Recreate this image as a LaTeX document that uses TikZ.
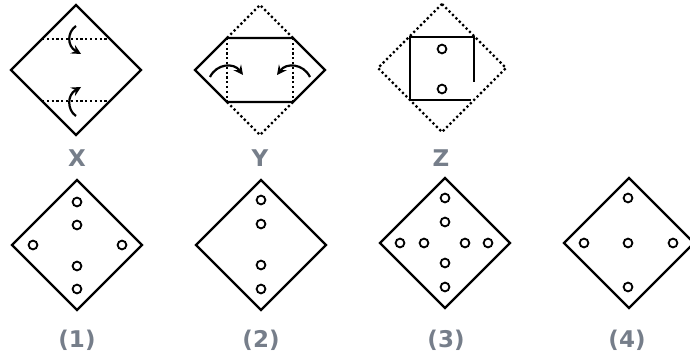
\documentclass[tikz,border=0pt]{standalone}
\usepackage{fontspec}
\setsansfont{DejaVu Sans}
\definecolor{lblgray}{RGB}{118,126,138}
\tikzset{
  paper/.style={line width=1.1pt, line join=miter},
  foldline/.style={line width=1.1pt, dash pattern=on 1.1pt off 1.3pt},
  turn/.style={line width=1.1pt},
  hole/.style={draw, circle, line width=0.9pt, minimum size=4.4pt, inner sep=0pt},
  lbl/.style={font=\sffamily\bfseries\fontsize{11.5}{13}\selectfont, text=lblgray, inner sep=1pt}
}
\begin{document}
\begin{tikzpicture}[x=0.5pt, y=-0.5pt, >=stealth]
			\useasboundingbox (0,0) rectangle (690,358);
			\clip (0,0) rectangle (690,358);
			% X
			\draw[paper] (76,5) -- (141,70) -- (76,135) -- (11,70) -- cycle;
			\draw[foldline] (42,39) -- (110,39);
			\draw[foldline] (42,101) -- (110,101);
			\draw[turn, ->] (76,26) .. controls (67,32) and (67,46) .. (81,54);
			\draw[turn, ->] (76,116) .. controls (67,110) and (67,95) .. (81,87);
			\node[lbl] (labX) at (77,158) {X};
			% Y
			\draw[foldline] (227,38) -- (260,5) -- (293,38);
			\draw[foldline] (227,102) -- (260,135) -- (293,102);
			\draw[foldline] (227,38) -- (227,102);
			\draw[foldline] (293,38) -- (293,102);
			\draw[paper] (227,38) -- (293,38) -- (325,70) -- (293,102) -- (227,102) -- (195,70) -- cycle;
			\draw[turn, ->] (210,77) .. controls (217,63) and (234,63) .. (243,75);
			\draw[turn, ->] (310,77) .. controls (303,63) and (286,63) .. (277,75);
			\node[lbl] (labY) at (260,158) {Y};
			% Z
			\draw[foldline] (442,4) -- (506,68) -- (442,132) -- (378,68) -- cycle;
			\draw[paper] (474,82) -- (474,37) -- (410,37) -- (410,100) -- (471,100);
			\node[hole] (z1) at (442,49) {};
			\node[hole] (z2) at (442,89) {};
			\node[lbl] (labZ) at (441,158) {Z};
			% options
			\draw[paper] (77,180) -- (142,245) -- (77,310) -- (12,245) -- cycle;
			\foreach \p [count=\i] in {(77,202),(77,225),(77,266),(77,289),(33,245),(122,245)}
				\node[hole] (a\i) at \p {};
			\node[lbl] (lab1) at (77,340) {(1)};
			\draw[paper] (261,180) -- (326,245) -- (261,310) -- (196,245) -- cycle;
			\foreach \p [count=\i] in {(261,200),(261,224),(261,265),(261,289)}
				\node[hole] (b\i) at \p {};
			\node[lbl] (lab2) at (261,340) {(2)};
			\draw[paper] (445,178) -- (510,243) -- (445,308) -- (380,243) -- cycle;
			\foreach \p [count=\i] in {(445,198),(445,222),(445,263),(445,287),(400,243),(424,243),(465,243),(488,243)}
				\node[hole] (c\i) at \p {};
			\node[lbl] (lab3) at (446,340) {(3)};
			\draw[paper] (629,178) -- (694,243) -- (629,308) -- (564,243) -- cycle;
			\foreach \p [count=\i] in {(628,198),(628,243),(584,243),(673,243),(628,287)}
				\node[hole] (d\i) at \p {};
			\node[lbl] (lab4) at (627,340) {(4)};
		\end{tikzpicture}
\end{document}
